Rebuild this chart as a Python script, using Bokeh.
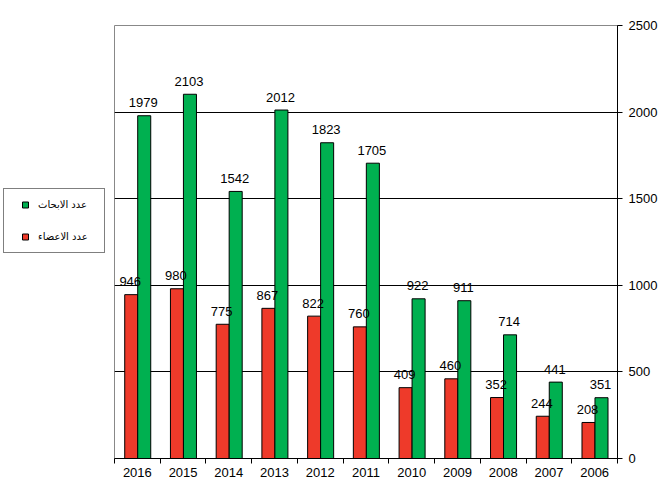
from bokeh.plotting import figure
from bokeh.layouts import row
from bokeh.models import (ColumnDataSource, Range1d, FixedTicker, Legend, LegendItem)
from bokeh.transform import dodge
from bokeh.embed import file_html
from bokeh.resources import INLINE

years = ["2016", "2015", "2014", "2013", "2012", "2011", "2010", "2009", "2008", "2007", "2006"]
members = [946, 980, 775, 867, 822, 760, 409, 460, 352, 244, 208]
research = [1979, 2103, 1542, 2012, 1823, 1705, 922, 911, 714, 441, 351]
y_ticks = [0, 500, 1000, 1500, 2000, 2500]
label_members = "عدد الاعضاء"
label_research = "عدد الابحاث"

RED = "#EE3A2A"
GREEN = "#00B050"
FONT = "Liberation Sans"

n = len(years)
centers = [i + 0.5 for i in range(n)]
src = ColumnDataSource(dict(x=centers, members=members, research=research,
                            mtxt=[str(v) for v in members], rtxt=[str(v) for v in research]))

# ---------- main chart ----------
p = figure(width=551, height=490, output_backend="svg", toolbar_location=None,
           x_range=Range1d(0, n), y_range=Range1d(0, 2500),
           y_axis_location="right", title=None,
           min_border_left=1, min_border_right=47, min_border_top=25, min_border_bottom=32)

p.outline_line_color = "#888888"
p.background_fill_color = "white"
p.xgrid.visible = False
p.ygrid.ticker = FixedTicker(ticks=y_ticks[1:-1])
p.ygrid.grid_line_color = "black"
p.ygrid.grid_line_width = 1

RW = 0.285
p.vbar(x=dodge("x", -0.134, range=p.x_range), top="members", width=RW, bottom=0, source=src,
       fill_color=RED, line_color="black", line_width=1)
p.vbar(x=dodge("x", 0.15, range=p.x_range), top="research", width=RW, bottom=0, source=src,
       fill_color=GREEN, line_color="black", line_width=1)

p.text(x=dodge("x", -0.134, range=p.x_range), y="members", text="mtxt", source=src,
       text_align="center", text_baseline="alphabetic", y_offset=-13, x_offset=-1,
       text_font={"value": FONT}, text_font_size="13px", text_color="black")
p.text(x=dodge("x", 0.15, range=p.x_range), y="research", text="rtxt", source=src,
       text_align="center", text_baseline="alphabetic", y_offset=-13, x_offset=-1,
       text_font={"value": FONT}, text_font_size="13px", text_color="black")

xa = p.xaxis[0]
xa.ticker = FixedTicker(ticks=centers, minor_ticks=list(range(n + 1)))
xa.major_label_overrides = {c: y for c, y in zip(centers, years)}
xa.major_tick_line_color = None
xa.major_tick_out = 0
xa.major_tick_in = 0
xa.minor_tick_line_color = "black"
xa.minor_tick_out = 5
xa.minor_tick_in = 0
xa.axis_line_color = "black"
xa.major_label_standoff = 4
xa.major_label_text_font = FONT
xa.major_label_text_font_size = "13px"
xa.major_label_text_color = "black"

ya = p.yaxis[0]
ya.ticker = FixedTicker(ticks=y_ticks)
ya.axis_line_color = "black"
ya.major_tick_line_color = "black"
ya.major_tick_out = 5
ya.major_tick_in = 0
ya.minor_tick_line_color = None
ya.major_label_standoff = 6
ya.major_label_text_font = FONT
ya.major_label_text_font_size = "13px"
ya.major_label_text_color = "black"

# ---------- legend panel ----------
lp = figure(width=113, height=490, output_backend="svg", toolbar_location=None,
            x_range=Range1d(0, 113), y_range=Range1d(-2, -1),
            x_axis_type=None, y_axis_type=None, title=None,
            min_border_left=0, min_border_right=0, min_border_top=0, min_border_bottom=0)
lp.outline_line_color = None
lp.xgrid.visible = False
lp.ygrid.visible = False
# markers for the legend keys (their data lie outside this panel's visible range)
lg = lp.scatter(x="x", y="research", source=src, marker="square",
                fill_color=GREEN, line_color="black", line_width=1)
lr = lp.scatter(x="x", y="members", source=src, marker="square",
                fill_color=RED, line_color="black", line_width=1)
legend = Legend(items=[LegendItem(label=label_research, renderers=[lg], index=0),
                       LegendItem(label=label_members, renderers=[lr], index=0)],
                location=(3, 205), orientation="vertical",
                border_line_color="black", border_line_width=1,
                background_fill_color="white", background_fill_alpha=1,
                padding=8, spacing=17, glyph_width=26, glyph_height=15,
                label_height=15, label_width=58, label_standoff=0,
                label_text_font="DejaVu Sans", label_text_font_size="10px",
                label_text_color="black", margin=0)
lp.add_layout(legend, "center")

layout = row(lp, p)
open("out.html", "w").write(file_html(layout, INLINE))
